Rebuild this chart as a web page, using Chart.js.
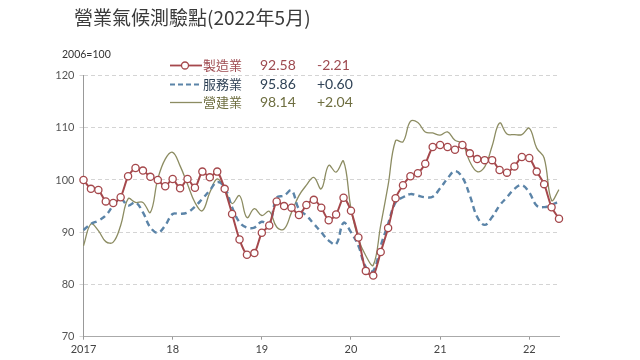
<!DOCTYPE html>
<html>
<head>
<meta charset="utf-8">
<script src="https://cdn.jsdelivr.net/npm/chart.js@4/dist/chart.umd.min.js"></script>
<style>
  html, body { margin: 0; padding: 0; background: #fff; }
  #wrap { position: relative; width: 640px; height: 360px; overflow: hidden; }
  #c { position: absolute; left: 0; top: 0; }
  .t { position: absolute; white-space: nowrap; }
  #title { left: 74px; top: 4px; font: 19px "Noto Sans CJK TC", sans-serif; color: #3a3a3a; line-height: 26px; }
  #unit { left: 62px; top: 46px; font: 10.5px Lato, "Open Sans", sans-serif; color: #333; line-height: 16px; }
  .lg { font-size: 13px; line-height: 18px; }
  .nm { font-family: "Noto Sans CJK TC", sans-serif; }
  .nu { font-family: Lato, "Open Sans", sans-serif; font-size: 14px; }
</style>
</head>
<body>
<div id="wrap">
  <canvas id="c" width="640" height="360"></canvas>
  <div id="title" class="t">營業氣候測驗點(2022年5月)</div>
  <div id="unit" class="t">2006=100</div>
  <svg class="t" style="left:0;top:0" width="640" height="120">
    <line x1="170" y1="65.5" x2="202" y2="65.5" stroke="#A5484C" stroke-width="1.8"/>
    <circle cx="185" cy="65.5" r="3.5" fill="#fff" stroke="#A5484C" stroke-width="1.3"/>
    <line x1="170" y1="84.5" x2="202" y2="84.5" stroke="#5B84A8" stroke-width="2" stroke-dasharray="5,3"/>
    <line x1="170" y1="102.5" x2="202" y2="102.5" stroke="#8C8C62" stroke-width="1.3"/>
  </svg>
  <div class="t lg nm" style="left:203px;top:56px;color:#9E4A50">製造業</div>
  <div class="t lg nu" style="left:260px;top:56px;color:#9E4A50">92.58</div>
  <div class="t lg nu" style="left:317px;top:56px;color:#9E4A50">-2.21</div>
  <div class="t lg nm" style="left:203px;top:75px;color:#2F4256">服務業</div>
  <div class="t lg nu" style="left:260px;top:75px;color:#2F4256">95.86</div>
  <div class="t lg nu" style="left:317px;top:75px;color:#2F4256">+0.60</div>
  <div class="t lg nm" style="left:203px;top:93px;color:#6E6E40">營建業</div>
  <div class="t lg nu" style="left:260px;top:93px;color:#6E6E40">98.14</div>
  <div class="t lg nu" style="left:317px;top:93px;color:#6E6E40">+2.04</div>
</div>
<script>
// ---- data ----
const yearLabels = ['2017', '18', '19', '20', '21', '22'];
const months = [];
for (let y = 2017; y <= 2022; y++) {
  for (let m = 1; m <= 12; m++) {
    if (y === 2022 && m > 5) break;
    months.push(y + '/' + (m < 10 ? '0' + m : m));
  }
}
const manufacturing = [
  100.0, 98.3, 98.1, 95.9, 95.6, 96.7, 100.7, 102.3, 101.8, 100.6, 100.0, 98.8,
  100.2, 98.4, 100.2, 98.5, 101.6, 100.5, 101.6, 98.3, 93.5, 88.6, 85.7, 86.0,
  89.9, 91.3, 95.9, 95.0, 94.7, 93.3, 95.2, 96.2, 94.7, 92.3, 93.4, 96.6,
  94.1, 89.0, 82.6, 81.7, 86.2, 90.8, 96.5, 99.0, 100.7, 101.3, 103.1, 106.3,
  106.7, 106.3, 105.8, 106.7, 105.1, 104.0, 103.8, 103.8, 101.9, 101.4, 102.6, 104.4,
  104.2, 101.6, 99.2, 94.79, 92.58
];
const services = [
  90.4, 91.6, 92.2, 93.2, 95.1, 96.4, 95.1, 95.7, 93.8, 90.9, 89.9, 91.3,
  93.5, 93.5, 93.8, 94.9, 96.4, 98.0, 99.6, 98.6, 94.8, 91.9, 90.9, 90.9,
  92.0, 91.5, 96.6, 97.0, 98.0, 94.4, 93.2, 91.6, 90.0, 88.4, 87.7, 91.8,
  90.0, 87.4, 83.3, 82.6, 87.4, 91.6, 95.7, 96.7, 97.3, 97.0, 96.7, 96.8,
  98.4, 100.3, 101.7, 100.5, 97.0, 92.9, 91.4, 92.9, 95.1, 96.7, 98.3, 99.0,
  97.6, 95.1, 94.8, 95.26, 95.86
];
const construction = [
  87.4, 91.6, 90.3, 88.2, 88.1, 91.3, 96.4, 95.7, 95.7, 93.8, 100.2, 104.0,
  105.3, 102.7, 99.2, 95.7, 94.1, 97.6, 100.2, 98.3, 95.5, 97.0, 92.8, 94.5,
  93.2, 94.0, 91.0, 90.6, 93.8, 97.0, 99.0, 100.5, 98.3, 102.8, 101.5, 103.6,
  94.5, 88.7, 85.5, 83.7, 91.3, 99.0, 107.5, 107.3, 111.2, 111.0, 109.2, 109.0,
  108.6, 109.2, 107.6, 107.0, 103.5, 101.6, 102.5, 106.5, 110.9, 108.8, 108.7, 108.7,
  109.9, 106.1, 104.2, 96.1, 98.14
];
const seriesNames = ['製造業', '服務業', '營建業'];

new Chart(document.getElementById('c'), {
  type: 'line',
  data: {
    labels: months,
    datasets: [
      {
        label: seriesNames[0], data: manufacturing,
        borderColor: '#A5484C', borderWidth: 2, tension: 0.25,
        pointRadius: 3.6, pointBorderWidth: 1.3,
        pointBackgroundColor: '#ffffff', pointBorderColor: '#A5484C'
      },
      {
        label: seriesNames[1], data: services,
        borderColor: '#5B84A8', borderWidth: 2.4, borderDash: [6, 4],
        tension: 0.4, pointRadius: 0
      },
      {
        label: seriesNames[2], data: construction,
        borderColor: '#8C8C62', borderWidth: 1.3,
        tension: 0.4, pointRadius: 0
      }
    ]
  },
  options: {
    responsive: false,
    animation: false,
    devicePixelRatio: 1,
    layout: { padding: { left: 0, top: 75.5, right: 81, bottom: 0 } },
    plugins: { legend: { display: false }, tooltip: { enabled: false }, title: { display: false } },
    scales: {
      x: {
        offset: false,
        afterFit: (s) => { s.height = 23.3; },
        grid: {
          display: true, drawOnChartArea: false, drawTicks: true, tickLength: 3,
          color: (ctx) => (ctx.index % 12 === 0 ? '#999' : 'rgba(0,0,0,0)')
        },
        border: { display: true, color: '#aaa', width: 1 },
        ticks: {
          autoSkip: false, maxRotation: 0, minRotation: 0, padding: 3,
          color: '#444', font: { family: 'Lato, "Open Sans", sans-serif', size: 11 },
          callback: (v, i) => (i % 12 === 0 ? yearLabels[i / 12] : '')
        }
      },
      y: {
        min: 70, max: 120,
        afterFit: (s) => { s.width = 83.5; },
        grid: { color: '#d4d4d4', tickLength: 4, lineWidth: 1 },
        border: { display: true, color: '#999', width: 1, dash: [4, 3] },
        ticks: {
          stepSize: 10, padding: 5, color: '#555',
          font: { family: 'Lato, "Open Sans", sans-serif', size: 11 }
        }
      }
    }
  }
});
</script>
</body>
</html>
